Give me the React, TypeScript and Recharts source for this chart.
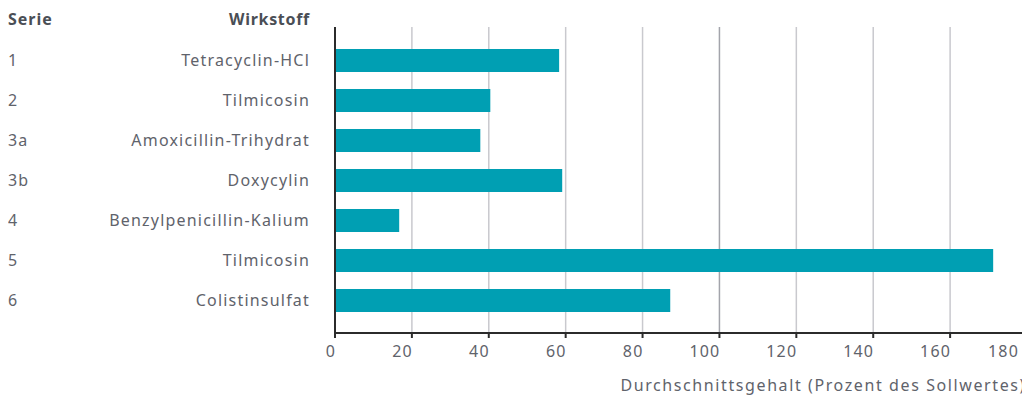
import { BarChart, Bar, XAxis, YAxis, CartesianGrid } from 'recharts'

const series = ['1', '2', '3a', '3b', '4', '5', '6']
const substances = [
  'Tetracyclin-HCl',
  'Tilmicosin',
  'Amoxicillin-Trihydrat',
  'Doxycylin',
  'Benzylpenicillin-Kalium',
  'Tilmicosin',
  'Colistinsulfat',
]
const averages = [58.3, 40.4, 37.8, 59.1, 16.7, 171.2, 87.2]
const xTicks = [0, 20, 40, 60, 80, 100, 120, 140, 160, 180]
const targetValue = 100

const FONT = '"Noto Sans", sans-serif'
const TEXT = '#5f636b'
const HEAD = '#4a4e55'
const BAR = '#009fb3'
const SPACING = 1.2

const data = series.map((s, i) => ({
  key: s + '|' + substances[i],
  serie: s,
  name: substances[i],
  value: averages[i],
}))

function CategoryTick({ y, payload }: any) {
  const [serie, name] = String(payload.value).split('|')
  return (
    <g>
      <text x={0} y={y} dy={6} textAnchor="start" fill={TEXT} fontSize={16} fontFamily={FONT} letterSpacing={SPACING}>
        {serie}
      </text>
      <text x={302} y={y} dy={6} textAnchor="end" fill={TEXT} fontSize={16} fontFamily={FONT} letterSpacing={SPACING}>
        {name}
      </text>
    </g>
  )
}

function ValueTick({ x, y, payload }: any) {
  return (
    <text x={x + 1} y={y} dy={17} textAnchor="end" fill={TEXT} fontSize={16} fontFamily={FONT} letterSpacing={SPACING}>
      {payload.value}
    </text>
  )
}

// grid line at the 100 % target is a bit darker
function GridLine(props: any) {
  const { x1, x2, y1, y2, index } = props
  const dark = index === xTicks.indexOf(targetValue)
  return <line x1={x1} x2={x2} y1={y1} y2={y2} stroke={dark ? '#a3a4ab' : '#c9c9ce'} strokeWidth={1.5} />
}

export default function App() {
  return (
    <div style={{ position: 'relative', width: 1022, height: 393, fontFamily: FONT }}>
      <div style={{ position: 'absolute', left: 0, top: 0, fontSize: 16, fontWeight: 700, color: HEAD, letterSpacing: 1 }}>
        Serie
      </div>
      <div
        style={{
          position: 'absolute',
          right: 1022 - 302,
          top: 0,
          fontSize: 16,
          fontWeight: 700,
          color: HEAD,
          letterSpacing: 0.7,
        }}
      >
        Wirkstoff
      </div>
      <BarChart
        width={1022}
        height={393}
        data={data}
        layout="vertical"
        margin={{ top: 19, right: 3, bottom: 0, left: 0 }}
        barSize={23}
      >
        <CartesianGrid horizontal={false} vertical={(p: any) => <GridLine {...p} />} />
        <XAxis
          type="number"
          domain={[0, 180]}
          ticks={xTicks}
          height={68}
          axisLine={{ stroke: '#2b2b2b', strokeWidth: 2 }}
          tickLine={{ stroke: '#2b2b2b', strokeWidth: 2 }}
          tickSize={5}
          tick={<ValueTick />}
          label={{
            value: 'Durchschnittsgehalt (Prozent des Sollwertes)',
            position: 'insideBottomRight',
            offset: 0,
            dx: -1,
            dy: -10,
            fill: TEXT,
            fontSize: 16,
            fontFamily: FONT,
            letterSpacing: 1.6,
          }}
        />
        <YAxis
          type="category"
          dataKey="key"
          width={327}
          padding={{ top: 13, bottom: 13 }}
          axisLine={{ stroke: '#2b2b2b', strokeWidth: 2 }}
          tickLine={false}
          tick={<CategoryTick />}
          interval={0}
        />
        <Bar dataKey="value" fill={BAR} isAnimationActive={false} />
      </BarChart>
    </div>
  )
}
